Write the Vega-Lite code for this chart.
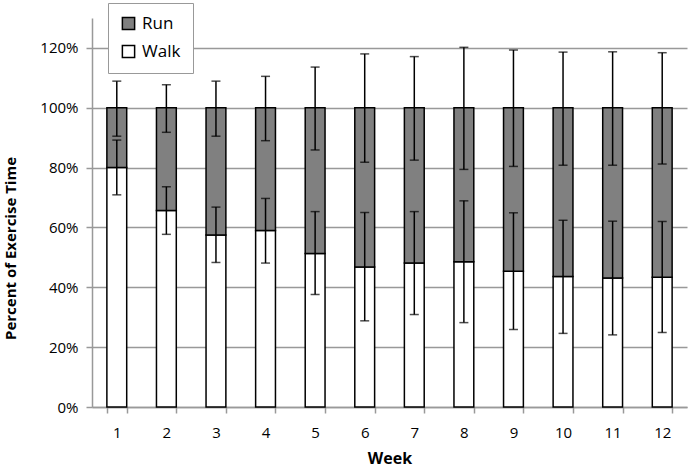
{
  "$schema": "https://vega.github.io/schema/vega-lite/v6.json",
  "width": 595,
  "height": 389,
  "autosize": {"type": "none"},
  "padding": {"left": 92, "top": 18, "right": 2, "bottom": 62},
  "background": "white",
  "config": {
    "view": {"stroke": null},
    "font": "Open Sans",
    "axis": {"labelFont": "Open Sans", "titleFont": "Open Sans", "labelColor": "black", "titleColor": "black"}
  },
  "data": {
    "values": [
      {"week": "1", "Walk": 0.80, "Run": 0.20, "walk_lo": 0.709, "walk_hi": 0.892, "run_lo": 0.905, "run_hi": 1.089},
      {"week": "2", "Walk": 0.657, "Run": 0.343, "walk_lo": 0.577, "walk_hi": 0.736, "run_lo": 0.918, "run_hi": 1.077},
      {"week": "3", "Walk": 0.575, "Run": 0.425, "walk_lo": 0.483, "walk_hi": 0.668, "run_lo": 0.905, "run_hi": 1.089},
      {"week": "4", "Walk": 0.590, "Run": 0.410, "walk_lo": 0.481, "walk_hi": 0.697, "run_lo": 0.890, "run_hi": 1.105},
      {"week": "5", "Walk": 0.513, "Run": 0.487, "walk_lo": 0.376, "walk_hi": 0.653, "run_lo": 0.859, "run_hi": 1.136},
      {"week": "6", "Walk": 0.468, "Run": 0.532, "walk_lo": 0.288, "walk_hi": 0.650, "run_lo": 0.818, "run_hi": 1.180},
      {"week": "7", "Walk": 0.481, "Run": 0.519, "walk_lo": 0.309, "walk_hi": 0.653, "run_lo": 0.825, "run_hi": 1.171},
      {"week": "8", "Walk": 0.485, "Run": 0.515, "walk_lo": 0.282, "walk_hi": 0.689, "run_lo": 0.794, "run_hi": 1.202},
      {"week": "9", "Walk": 0.454, "Run": 0.546, "walk_lo": 0.259, "walk_hi": 0.649, "run_lo": 0.804, "run_hi": 1.193},
      {"week": "10", "Walk": 0.436, "Run": 0.564, "walk_lo": 0.246, "walk_hi": 0.624, "run_lo": 0.808, "run_hi": 1.186},
      {"week": "11", "Walk": 0.431, "Run": 0.569, "walk_lo": 0.241, "walk_hi": 0.621, "run_lo": 0.808, "run_hi": 1.187},
      {"week": "12", "Walk": 0.434, "Run": 0.566, "walk_lo": 0.249, "walk_hi": 0.620, "run_lo": 0.812, "run_hi": 1.184}
    ]
  },
  "encoding": {
    "x": {
      "field": "week", "type": "ordinal", "sort": null,
      "scale": {"paddingInner": 0.6, "paddingOuter": 0.3},
      "axis": {
        "title": "Week", "labelAngle": 0, "labelFontSize": 15, "titleFontSize": 16, "titleFontWeight": "bold",
        "tickBand": "extent", "domainColor": "#999999", "domainWidth": 1.5, "tickColor": "#999999", "tickWidth": 1.5,
        "tickSize": 6, "labelPadding": 12, "titlePadding": 10, "grid": false
      }
    }
  },
  "layer": [
    {
      "transform": [{"fold": ["Walk", "Run"], "as": ["key", "val"]}],
      "mark": {"type": "bar", "stroke": "black", "strokeWidth": 1.5},
      "encoding": {
        "y": {
          "field": "val", "type": "quantitative", "stack": "zero",
          "scale": {"domain": [0, 1.3], "nice": false},
          "axis": {
            "title": "Percent of Exercise Time", "values": [0, 0.2, 0.4, 0.6, 0.8, 1.0, 1.2], "format": ".0%",
            "labelFontSize": 15, "titleFontSize": 15, "titleFontWeight": "bold",
            "gridColor": "#999999", "gridWidth": 1.5, "domainColor": "#999999", "domainWidth": 1.5,
            "tickColor": "#999999", "tickWidth": 1.5, "tickSize": 6, "labelPadding": 8,
            "titleX": -74, "titleY": 230, "titleAngle": -90
          }
        },
        "color": {
          "field": "key", "type": "nominal",
          "scale": {"domain": ["Run", "Walk"], "range": ["#808080", "#ffffff"]},
          "legend": {
            "title": null, "orient": "none", "legendX": 16, "legendY": -15,
            "strokeColor": "#999999", "fillColor": "white", "padding": 12,
            "symbolType": "square", "symbolSize": 150, "symbolStrokeColor": "black", "symbolStrokeWidth": 1.5,
            "labelFontSize": 17, "labelFont": "Open Sans", "labelColor": "black", "rowPadding": 9, "labelOffset": 5
          }
        },
        "order": {"field": "key", "sort": "descending"}
      }
    },
    {
      "mark": {"type": "rule", "color": "black", "strokeWidth": 1.5},
      "encoding": {"y": {"field": "walk_lo", "type": "quantitative"}, "y2": {"field": "walk_hi"}}
    },
    {
      "mark": {"type": "rule", "color": "black", "strokeWidth": 1.5},
      "encoding": {"y": {"field": "run_lo", "type": "quantitative"}, "y2": {"field": "run_hi"}}
    },
    {
      "transform": [{"fold": ["walk_lo", "walk_hi", "run_lo", "run_hi"], "as": ["bound", "bval"]}],
      "mark": {"type": "tick", "color": "black", "thickness": 1.5, "size": 9, "orient": "horizontal"},
      "encoding": {"y": {"field": "bval", "type": "quantitative"}}
    }
  ]
}
